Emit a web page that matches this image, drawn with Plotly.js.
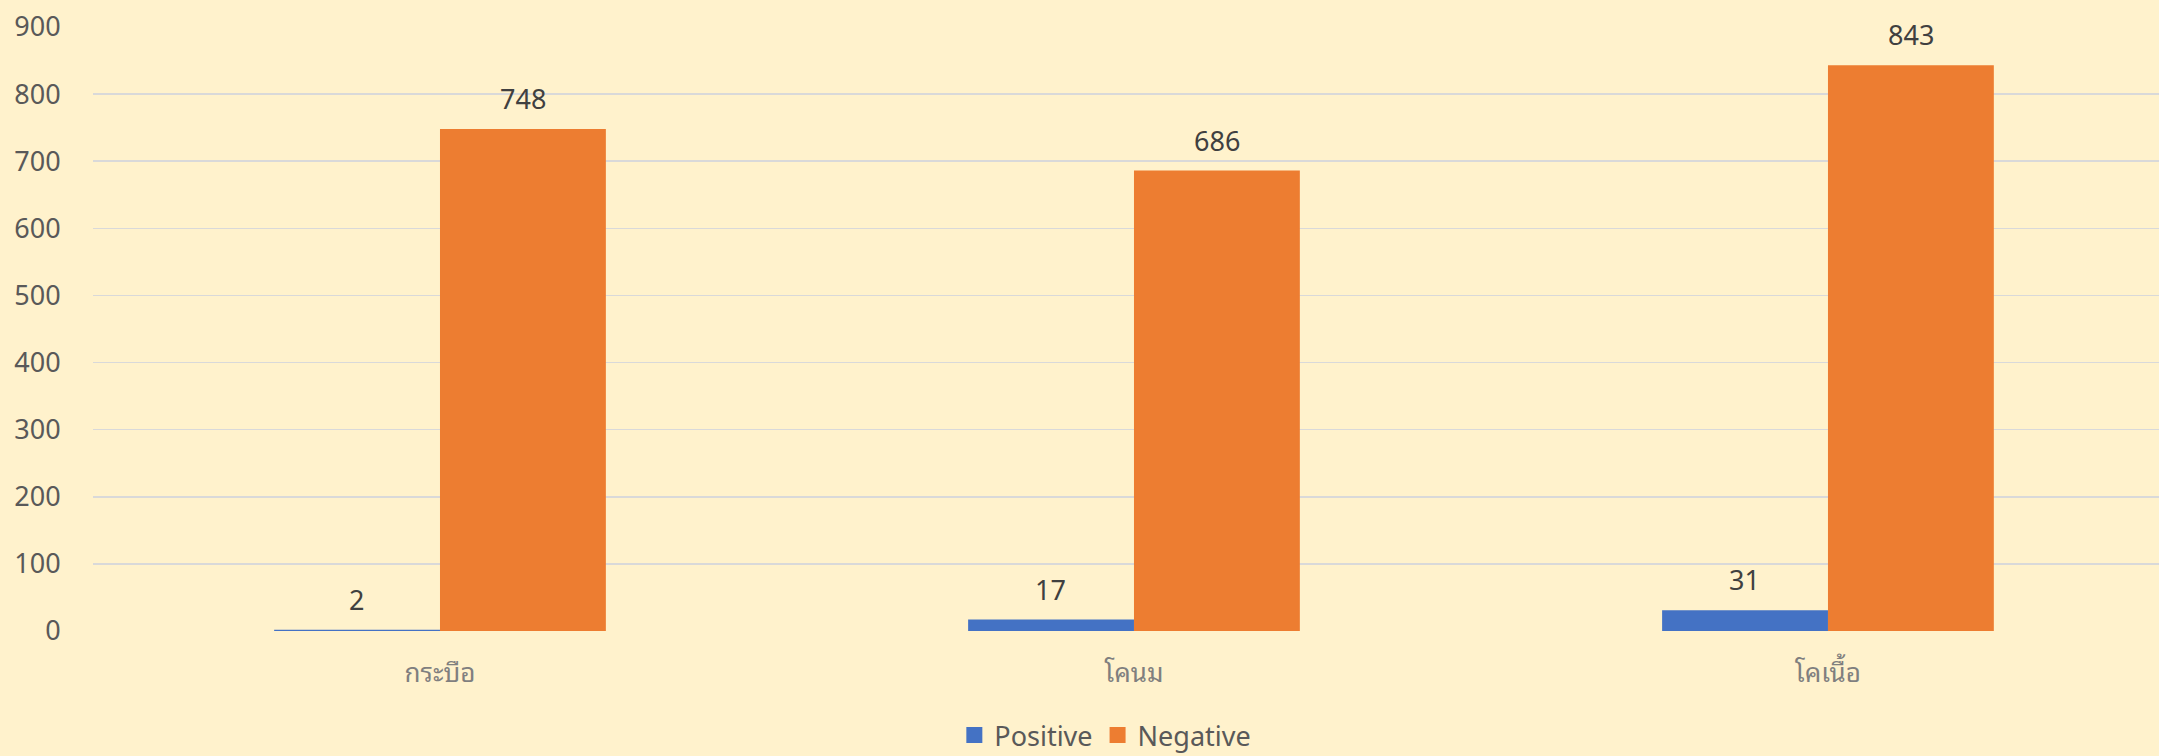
<!DOCTYPE html>
<html>
<head>
<meta charset="utf-8">
<script src="https://cdn.plot.ly/plotly-3.0.1.min.js"></script>
<style>html,body{margin:0;padding:0;background:#FFF2CC;}#chart{width:2159px;height:756px;}</style>
</head>
<body>
<div id="chart"></div>
<script>
const categories = ["กระบือ", "โคนม", "โคเนื้อ"];
const seriesNames = ["Positive", "Negative"];
const positiveValues = [2, 17, 31];
const negativeValues = [748, 686, 843];
const yTickValues = [0, 100, 200, 300, 400, 500, 600, 700, 800, 900];

const colors = ["#4472C4", "#ED7D31"];
const allValues = [positiveValues, negativeValues];
const barPx = 166;

const traces = allValues.map((vals, i) => ({
  type: "bar",
  name: seriesNames[i],
  x: categories,
  y: vals,
  marker: {color: colors[i]},
  showlegend: false,
  legendgroup: seriesNames[i]
}));

// legend entries with larger square swatches
allValues.forEach((vals, i) => {
  traces.push({
    type: "scatter", mode: "markers",
    name: seriesNames[i], legendgroup: seriesNames[i],
    x: [null], y: [null],
    marker: {symbol: "square", size: 18, color: colors[i]},
    showlegend: true
  });
});

const annotations = [];
allValues.forEach((vals, i) => {
  vals.forEach((v, j) => {
    annotations.push({
      x: categories[j], y: v, xref: "x", yref: "y",
      text: String(v), showarrow: false,
      xshift: (i === 0 ? -1 : 1) * barPx / 2,
      yanchor: "bottom", yshift: 10,
      font: {family: "Noto Sans, Open Sans, sans-serif", size: 27, color: "#404040"}
    });
  });
});

const layout = {
  width: 2159, height: 756,
  paper_bgcolor: "#FFF2CC", plot_bgcolor: "#FFF2CC",
  margin: {l: 93, r: 0, t: 26.5, b: 125, autoexpand: false},
  barmode: "group",
  bargap: 0.522, bargroupgap: 0,
  showlegend: true,
  legend: {
    orientation: "h", x: 0.49, xanchor: "center", y: -0.2135, yanchor: "bottom",
    font: {family: "Noto Sans, Open Sans, sans-serif", size: 27, color: "#595959"},
    itemwidth: 30, tracegroupgap: 0, borderwidth: 0,
    traceorder: "normal", bgcolor: "rgba(0,0,0,0)"
  },
  xaxis: {
    type: "category",
    range: [-0.5, 2.477],
    showgrid: false, zeroline: false, showline: false,
    ticks: "", ticklen: 0,
    ticklabelstandoff: 24,
    tickfont: {family: "Noto Sans Thai Looped, Noto Sans Thai, Noto Sans, DejaVu Sans, sans-serif", size: 26, color: "#7F7F7F"},
    automargin: false,
    fixedrange: true
  },
  yaxis: {
    range: [0, 900],
    tickvals: yTickValues,
    ticktext: yTickValues.map(String),
    showgrid: true, gridcolor: "#D9D9D9", gridwidth: 1.5,
    zeroline: false, showline: false,
    ticks: "outside", ticklen: 26, tickcolor: "rgba(0,0,0,0)",
    tickfont: {family: "Noto Sans, Open Sans, sans-serif", size: 27, color: "#595959"},
    automargin: false,
    fixedrange: true
  },
  annotations: annotations
};

Plotly.newPlot("chart", traces, layout, {displayModeBar: false, staticPlot: true});
</script>
</body>
</html>
